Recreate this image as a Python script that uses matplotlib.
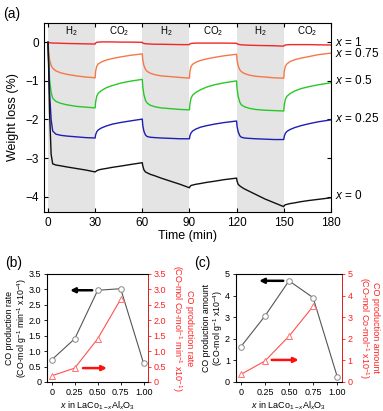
import numpy as np
import matplotlib
matplotlib.use('Agg')
import matplotlib.pyplot as plt
from matplotlib.transforms import blended_transform_factory

plt.rcParams['font.family'] = ['Liberation Sans', 'DejaVu Sans']
plt.rcParams['mathtext.fontset'] = 'custom'
plt.rcParams['mathtext.rm'] = 'Liberation Sans'
plt.rcParams['mathtext.it'] = 'Liberation Sans:italic'

# ---- panel (a): TGA weight loss, shared time samples ----
time = [0, 0.5, 1, 2, 3, 5, 8, 12, 18, 24, 30,
        30.3, 31, 32, 34, 37, 41, 46, 52, 60,
        60.3, 61, 62, 63, 65, 68, 72, 78, 84, 90,
        90.3, 91, 92, 94, 97, 101, 106, 112, 120,
        120.3, 121, 122, 123, 125, 128, 132, 138, 144, 150,
        150.3, 151, 152, 154, 157, 161, 166, 172, 180]

w_x1 = [0, -0.005, -0.01, -0.015, -0.02, -0.02, -0.025, -0.03, -0.035, -0.04, -0.045,
        -0.02, 0.0, 0.005, 0.01, 0.01, 0.01, 0.005, 0.005, 0.0,
        -0.02, -0.03, -0.035, -0.04, -0.045, -0.05, -0.05, -0.055, -0.06, -0.06,
        -0.04, -0.03, -0.025, -0.02, -0.02, -0.02, -0.02, -0.02, -0.025,
        -0.04, -0.05, -0.06, -0.065, -0.07, -0.075, -0.08, -0.085, -0.09, -0.1,
        -0.08, -0.07, -0.065, -0.06, -0.06, -0.06, -0.06, -0.065, -0.07]

w_x075 = [0, -0.25, -0.45, -0.6, -0.67, -0.74, -0.79, -0.83, -0.87, -0.9, -0.92,
          -0.75, -0.62, -0.56, -0.51, -0.46, -0.42, -0.38, -0.34, -0.3,
          -0.45, -0.6, -0.7, -0.75, -0.8, -0.84, -0.87, -0.89, -0.91, -0.93,
          -0.76, -0.63, -0.57, -0.52, -0.47, -0.43, -0.39, -0.35, -0.31,
          -0.46, -0.61, -0.71, -0.76, -0.81, -0.85, -0.88, -0.9, -0.92, -0.93,
          -0.76, -0.62, -0.56, -0.5, -0.45, -0.41, -0.37, -0.32, -0.28]

w_x05 = [0, -0.5, -0.95, -1.3, -1.45, -1.53, -1.58, -1.62, -1.66, -1.68, -1.7,
         -1.55, -1.4, -1.32, -1.25, -1.18, -1.12, -1.06, -1.01, -0.96,
         -1.15, -1.35, -1.5, -1.57, -1.63, -1.67, -1.7, -1.72, -1.74, -1.75,
         -1.6, -1.45, -1.37, -1.3, -1.23, -1.16, -1.1, -1.05, -1.0,
         -1.2, -1.4, -1.55, -1.62, -1.67, -1.71, -1.74, -1.76, -1.77, -1.78,
         -1.63, -1.48, -1.4, -1.33, -1.26, -1.2, -1.15, -1.1, -1.05]

w_x025 = [0, -0.6, -1.3, -2.0, -2.3, -2.38, -2.41, -2.43, -2.45, -2.47, -2.48,
          -2.4, -2.32, -2.27, -2.22, -2.17, -2.12, -2.08, -2.04, -1.99,
          -2.15, -2.3, -2.4, -2.44, -2.46, -2.47, -2.48, -2.49, -2.5, -2.5,
          -2.42, -2.35, -2.3, -2.25, -2.2, -2.16, -2.12, -2.08, -2.04,
          -2.18, -2.32, -2.42, -2.46, -2.48, -2.49, -2.5, -2.51, -2.52, -2.52,
          -2.44, -2.36, -2.31, -2.26, -2.21, -2.16, -2.11, -2.06, -2.01]

w_x0 = [0, -0.8, -1.8, -2.9, -3.15, -3.18, -3.2, -3.23, -3.27, -3.31, -3.36,
        -3.35, -3.33, -3.31, -3.29, -3.27, -3.24, -3.21, -3.17, -3.12,
        -3.2, -3.3, -3.36, -3.38, -3.42, -3.46, -3.52, -3.6, -3.68, -3.77,
        -3.74, -3.71, -3.7, -3.68, -3.66, -3.63, -3.6, -3.56, -3.52,
        -3.6, -3.68, -3.72, -3.75, -3.8, -3.86, -3.94, -4.06, -4.16, -4.26,
        -4.23, -4.21, -4.2, -4.18, -4.16, -4.13, -4.1, -4.07, -4.03]

h2_windows = [(0, 30), (60, 90), (120, 150)]
gas_labels = ['H$_2$', 'CO$_2$', 'H$_2$', 'CO$_2$', 'H$_2$', 'CO$_2$']
gas_centers = [15, 45, 75, 105, 135, 165]

# ---- panels (b), (c) ----
x_comp = [0, 0.25, 0.5, 0.75, 1.0]
x_comp_co = [0, 0.25, 0.5, 0.75]
rate_g = [0.72, 1.4, 2.97, 3.02, 0.6]
rate_co = [0.2, 0.45, 1.4, 2.68]
amount_g = [1.63, 3.05, 4.68, 3.9, 0.25]
amount_co = [0.35, 0.97, 2.12, 3.5]

fig = plt.figure(figsize=(3.83, 4.11), dpi=100)

# ---------- (a) ----------
ax = fig.add_axes([0.115, 0.484, 0.749, 0.460])
for a, b in h2_windows:
    ax.axvspan(a, b, color='#e4e4e4', lw=0, zorder=0)
series = [(w_x1, '#f02828', '$x$ = 1'), (w_x075, '#f57848', '$x$ = 0.75'),
          (w_x05, '#28c828', '$x$ = 0.5'), (w_x025, '#1e1eb4', '$x$ = 0.25'),
          (w_x0, '#101010', '$x$ = 0')]
label_y = [0.0, -0.3, -0.98, -1.98, -3.98]
trans = blended_transform_factory(ax.transAxes, ax.transData)
for (w, c, lab), ly in zip(series, label_y):
    ax.plot(time, w, color=c, lw=1.0)
    ax.text(1.015, ly, lab, transform=trans, fontsize=8.5, va='center', ha='left')
for lab, xc in zip(gas_labels, gas_centers):
    ax.text(xc, 0.3, lab, fontsize=7, ha='center', va='center')
ax.set_xlim(-2.5, 180)
ax.set_ylim(-4.4, 0.5)
ax.set_xticks([0, 30, 60, 90, 120, 150, 180])
ax.set_yticks([0, -1, -2, -3, -4])
ax.tick_params(direction='in', top=True, right=True, labelsize=8.5, length=3, width=0.8)
ax.set_xlabel('Time (min)', fontsize=9, labelpad=1)
ax.set_ylabel('Weight loss (%)', fontsize=9, labelpad=5)
fig.text(0.008, 0.982, '(a)', fontsize=10, va='top')


def dual_panel(rect, yl, yr, ymax, yticks, lab_l, lab_r, arr_l, arr_r, tag, tagpos):
    axl = fig.add_axes(rect)
    axr = axl.twinx()
    axl.plot(x_comp, yl, color='#555555', lw=0.8, marker='o', ms=4,
             mfc='white', mec='#888888', mew=0.7, zorder=3)
    axr.plot(x_comp_co, yr, color='#ff5050', lw=0.8, marker='^', ms=4,
             mfc='white', mec='#ff7070', mew=0.7, zorder=3)
    axl.set_xlim(-0.055, 1.05)
    axl.set_ylim(0, ymax)
    axr.set_ylim(0, ymax)
    axl.set_xticks(x_comp)
    axl.set_xticklabels(['0', '0.25', '0.50', '0.75', '1.00'])
    axl.set_yticks(yticks)
    axr.set_yticks(yticks)
    fmt = [('0' if v == 0 else (f'{v:g}' if ymax > 4 else f'{v:.1f}')) for v in yticks]
    axl.set_yticklabels(fmt)
    axr.set_yticklabels(fmt)
    axl.tick_params(labelsize=6.5, length=2.5, width=0.6, pad=1.5)
    axr.tick_params(labelsize=6.5, length=2.5, width=0.6, pad=1.5,
                    colors='#ff2020')
    axr.spines['right'].set_color('#ff2020')
    for sp in axl.spines.values():
        sp.set_linewidth(0.6)
    axr.spines['right'].set_linewidth(0.6)
    axl.set_xlabel('$x$ in LaCo$_{1-x}$Al$_x$O$_3$', fontsize=6.5, labelpad=2)
    axl.set_ylabel(lab_l, fontsize=6.3, labelpad=0, linespacing=1.05)
    axr.set_ylabel(lab_r, fontsize=6.5, labelpad=3, rotation=270, va='bottom',
                   color='#ff2020', linespacing=1.1)
    axl.annotate('', xy=(arr_l[1], arr_l[2]), xytext=(arr_l[0], arr_l[2]),
                 arrowprops=dict(arrowstyle='-|>', color='black', lw=1.8,
                                 mutation_scale=7, shrinkA=0, shrinkB=0))
    axl.annotate('', xy=(arr_r[1], arr_r[2]), xytext=(arr_r[0], arr_r[2]),
                 arrowprops=dict(arrowstyle='-|>', color='#ff1010', lw=1.8,
                                 mutation_scale=7, shrinkA=0, shrinkB=0))
    fig.text(tagpos[0], tagpos[1], tag, fontsize=10, va='top')


dual_panel([0.122, 0.0706, 0.265, 0.263], rate_g, rate_co, 3.5,
           [0, 0.5, 1.0, 1.5, 2.0, 2.5, 3.0, 3.5],
           'CO production rate\n(CO-mol g$^{-1}$ min$^{-1}$ x10$^{-4}$)',
           'CO production rate\n(CO-mol Co-mol$^{-1}$ min$^{-1}$ x10$^{-1}$)',
           (0.44, 0.2, 2.97), (0.34, 0.6, 0.45), '(b)', (0.013, 0.377))

dual_panel([0.615, 0.0706, 0.278, 0.263], amount_g, amount_co, 5,
           [0, 1, 2, 3, 4, 5],
           'CO production amount\n(CO-mol g$^{-1}$ x10$^{-4}$)',
           'CO production amount\n(CO-mol Co-mol$^{-1}$ x10$^{-1}$)',
           (0.44, 0.19, 4.68), (0.32, 0.6, 1.02), '(c)', (0.508, 0.377))

fig.savefig('out.png', dpi=100)
